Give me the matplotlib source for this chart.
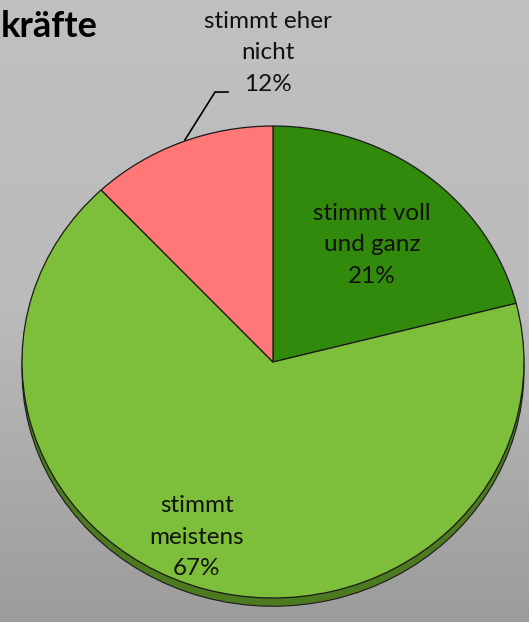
import matplotlib.pyplot as plt
import numpy as np

# data
categories = ["stimmt voll\nund ganz", "stimmt\nmeistens", "stimmt eher\nnicht"]
shares = [21, 67, 12]
colors = ["#318A0C", "#7DBF3A", "#FF7777"]
side_colors = ["#1F5A07", "#4C7A1E", "#A84A4A"]
title = "kräfte"

plt.rcParams['font.family'] = ['Lato', 'DejaVu Sans']

fig = plt.figure(figsize=(5.29, 6.22), dpi=100)

# gray gradient background
bg = fig.add_axes([0, 0, 1, 1])
grad = np.linspace(0, 1, 256).reshape(-1, 1)
bg.imshow(grad, aspect='auto', cmap=plt.matplotlib.colors.LinearSegmentedColormap.from_list(
    'g', ['#C0C0C0', '#BBBBBB', '#9C9C9C']), extent=[0, 1, 0, 1])
bg.axis('off')

ax = fig.add_axes([0, 0, 1, 1])
ax.set_facecolor('none')

# pie "depth" drawn slightly lower
ax.pie(shares, colors=side_colors, startangle=90, counterclock=False,
       center=(0, -0.035), wedgeprops=dict(edgecolor='#1a1a1a', linewidth=0.8))
wedges, _ = ax.pie(shares, colors=colors, startangle=90, counterclock=False,
                   wedgeprops=dict(edgecolor='#1a1a1a', linewidth=0.9))

ax.set_aspect('auto')
ax.set_xlim(-1.0876, 1.0199)
ax.set_ylim(-1.1017, 1.534)
ax.axis('off')

# labels
label_pos = [(0.394, 0.496), (-0.303, -0.742), (-0.02, 1.31)]
for cat, val, (x, y) in zip(categories, shares, label_pos):
    ax.text(x, y, f"{cat}\n{val}%", ha='center', va='center', fontsize=17.5,
            linespacing=1.62, color='#111111')

# leader line for the small slice
ax.plot([-0.351, -0.231, -0.179], [0.941, 1.144, 1.144], color='black', lw=1.2)

fig.text(0.002, 0.940, title, fontsize=26, fontweight='bold', ha='left', va='baseline')

fig.savefig('out.png', dpi=100)
